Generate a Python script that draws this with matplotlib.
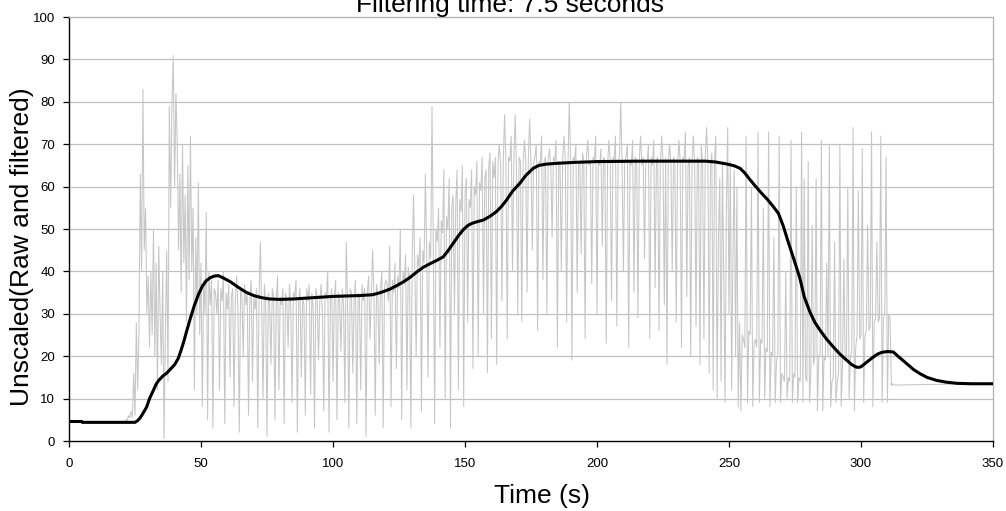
import numpy as np
import matplotlib
matplotlib.use("Agg")
import matplotlib.pyplot as plt

# ---------------- data ----------------
# raw signal (grey), quiet start
raw_quiet_t = [0.0, 4.8, 5.0, 21.0]
raw_quiet_v = [4.6, 4.6, 4.3, 4.3]

RAW_STEP = 0.5  # sampling of the raw segments (s)

raw_a_start = 21.5
raw_a = [5, 4.8, 6, 5.5, 7, 5.5, 16, 6, 28, 12,
         25, 63, 40, 83, 45, 55, 30, 39, 22, 40,
         25, 50, 20, 42, 12, 46, 30, 18, 40, 0.5,
         25, 45, 14, 79, 55, 80, 91, 60, 82, 70,
         45, 63, 35, 70, 42, 58, 28, 65, 38, 72,
         40, 55, 12, 48, 30, 61, 25, 42, 8, 38,
         30, 54, 5, 40, 32, 38, 3, 36]

raw_b_start = 55.5
raw_b = [35, 30, 38, 12, 36, 33, 40, 4, 35, 31,
         37, 15, 34, 36, 8, 33, 39, 31, 2, 36,
         34, 20, 37, 32, 35, 6, 33, 38, 14, 34,
         31, 36, 3, 35, 47, 30, 10, 37, 33, 1,
         35, 32, 18, 36, 34, 5, 33, 39, 12, 34,
         32, 36, 4, 35, 33, 22, 37, 31, 9, 35,
         34, 38, 2, 33, 36, 15, 34, 32, 6, 36,
         33, 37, 11, 35, 31, 3, 36, 34, 19, 33,
         37, 30, 7, 35, 34, 40, 2, 33, 36, 14,
         34, 38, 5, 35, 33, 21, 36, 32, 9, 47,
         34, 3, 36, 35, 16, 33, 38, 4, 35, 34,
         12, 37, 33, 36, 1, 35, 39, 24, 34, 45,
         35, 6, 37, 34, 18, 36, 40, 3, 36, 38]

raw_c_start = 120.5
raw_c = [37, 33, 46, 8, 38, 35, 42, 17, 39, 36,
         50, 5, 40, 37, 44, 12, 41, 38, 3, 43,
         58, 40, 20, 44, 41, 48, 7, 45, 42, 63,
         44, 15, 47, 43, 79, 46, 4, 50, 47, 55,
         22, 52, 49, 64, 10, 53, 50, 62, 3, 55,
         58, 30, 56, 64, 12, 57, 54, 65, 8, 58,
         62, 28, 57, 55, 64, 17, 60, 58, 66, 20,
         61, 59, 67, 30, 62, 64, 16, 65, 68, 24]

raw_d_start = 160.5
raw_d = [66, 62, 67, 18, 66, 70, 65, 33, 66, 77,
         65, 24, 67, 66, 72, 40, 66, 77, 64, 30,
         67, 66, 28, 65, 71, 66, 35, 67, 76, 65,
         45, 66, 67, 70, 26, 66, 65, 72, 38, 66,
         67, 30, 66, 69, 65, 48, 67, 66, 71, 22,
         66, 65, 40, 67, 72, 66, 28, 65, 80, 66,
         19, 67, 66, 70, 35, 65, 66, 44, 68, 66,
         24, 67, 71, 65, 66, 37, 67, 66, 72, 30,
         66, 65, 69, 46, 67, 66, 23, 65, 71, 66,
         33, 67, 66, 72, 27, 66, 67, 80, 65, 40,
         66, 67, 70, 22, 66, 65, 71, 35, 67, 66,
         29, 66, 72, 65, 67, 43, 66, 66, 70, 24,
         67, 65, 71, 36, 66, 67, 26, 65, 72, 66,
         32, 67, 18, 66, 70, 65, 40, 67, 66, 28,
         65, 71, 66, 22, 67, 66, 73, 34, 65, 67,
         20, 66, 72, 65, 27, 67, 66, 18, 70, 65,
         24, 67, 74, 66, 16, 65, 68, 12, 66, 72]

raw_e_start = 245.5
raw_e = [10, 48, 62, 14, 66, 40, 9, 55, 74, 30,
         66, 12, 45, 64, 20, 60, 8, 28, 7, 25,
         24, 22, 72, 9, 26, 25, 60, 8, 23, 24,
         22, 73, 9, 24, 23, 55, 10, 22, 21, 73,
         8, 21, 20, 48, 9, 19, 20, 72, 9, 16,
         15, 14, 40, 10, 15, 14, 71, 9, 16, 15,
         60, 9, 15, 14, 73, 9, 62, 15, 14, 66,
         9, 16, 51, 18, 20, 62, 7, 20, 20, 71,
         7, 20, 19, 42, 20, 70, 8, 14, 15, 47,
         9, 14, 16, 70, 8, 18, 43, 19, 20, 60,
         10, 20, 21, 74, 7, 22, 25, 59, 24, 25,
         69, 9, 25, 26, 51, 26, 27, 73, 8, 28,
         29, 47, 28, 29, 72, 9, 29, 30, 67, 9,
         30, 29, 13, 13.5, 13.3, 13.2]

raw_tail_t = [322.0, 334.0]
raw_tail_v = [13.3, 13.4]

# filtered signal (black)
filt_t = [0, 4.8, 5.0, 25, 26, 27, 28, 29.4, 30.5, 32,
          33, 34, 35.5, 37, 38.5, 40, 41.4, 42.5, 43.5, 44.6,
          46, 47.5, 49, 50.5, 52, 53.5, 55, 56.5, 58, 61,
          64, 67, 70, 73, 76, 80, 85, 90, 95, 100,
          105, 110, 115, 118, 121.5, 124, 126.6, 129, 131.6, 134,
          136.7, 139, 141.7, 143.5, 145.5, 147.5, 149.3, 151, 152.5, 154.5,
          156.9, 159.5, 161.9, 163.8, 165.7, 168, 170.8, 173, 175.8, 178,
          180.8, 185, 191, 200, 216, 241, 245, 249.4, 252, 254.2,
          256, 258, 260, 262.4, 264.5, 266.5, 268.7, 270.5, 272.5, 274.5,
          276.8, 278.5, 280.6, 282.5, 284.4, 287, 289.5, 292, 294.5, 296.5,
          298.3, 299.5, 300.2, 302, 304, 306, 307.8, 310, 312.2, 314,
          317.2, 320, 322.3, 325, 328.6, 332, 336.2, 342, 350]
filt_v = [4.6, 4.6, 4.4, 4.4, 4.8, 5.5, 6.5, 8, 10, 12,
          13.4, 14.3, 15.3, 16, 17, 18, 19.5, 21.5, 23.5, 26,
          29, 32, 34.5, 36.5, 37.8, 38.5, 38.9, 39, 38.6, 37.6,
          36.3, 35.1, 34.3, 33.8, 33.5, 33.4, 33.5, 33.7, 33.9, 34.1,
          34.2, 34.3, 34.5, 35, 35.8, 36.6, 37.5, 38.5, 39.8, 40.9,
          41.8, 42.5, 43.4, 44.8, 46.6, 48.4, 49.8, 50.8, 51.3, 51.7,
          52.1, 53, 54.1, 55.3, 56.8, 58.9, 60.8, 62.6, 64.3, 65,
          65.3, 65.5, 65.7, 65.9, 66.0, 66.0, 65.8, 65.3, 64.9, 64.3,
          63.2, 61.6, 60.1, 58.4, 57, 55.5, 53.7, 50.8, 46.8, 43,
          38.5, 34, 30.5, 28, 26.2, 24, 22.2, 20.5, 19.1, 18,
          17.4, 17.4, 17.6, 18.5, 19.5, 20.4, 20.9, 21.1, 21, 20,
          18.3, 16.8, 15.9, 15, 14.3, 13.9, 13.6, 13.5, 13.5]

x_ticks = [0, 50, 100, 150, 200, 250, 300, 350]
y_ticks = [0, 10, 20, 30, 40, 50, 60, 70, 80, 90, 100]

title_text = "Filtering time: 7.5 seconds"
x_label = "Time (s)"
y_label = "Unscaled(Raw and filtered)"

# ---------------- assemble raw series ----------------
def seg_times(start, vals):
    return start + np.arange(len(vals)) * RAW_STEP

raw_t = np.concatenate([
    raw_quiet_t,
    seg_times(raw_a_start, raw_a),
    seg_times(raw_b_start, raw_b),
    seg_times(raw_c_start, raw_c),
    seg_times(raw_d_start, raw_d),
    seg_times(raw_e_start, raw_e),
    raw_tail_t,
])
raw_v = np.concatenate([raw_quiet_v, raw_a, raw_b, raw_c, raw_d, raw_e, raw_tail_v])

# ---------------- plot ----------------
plt.rcParams["font.family"] = ["Liberation Sans", "DejaVu Sans"]

W, H = 1006, 511
fig = plt.figure(figsize=(W / 100, H / 100), dpi=100)
ax = fig.add_axes([69 / W, 1 - 441 / H, (993 - 69) / W, (441 - 17) / H])

GRID = "#c0c0c0"
for y in y_ticks[1:]:
    ax.axhline(y, color=GRID, lw=0.9, zorder=1)

ax.plot(raw_t, raw_v, color="#c6c6c6", lw=0.75, zorder=2, solid_joinstyle="miter")
ax.plot(filt_t, filt_v, color="black", lw=2.2, zorder=3,
        solid_joinstyle="round", solid_capstyle="round")

ax.set_xlim(0, 350)
ax.set_ylim(0, 100)
ax.set_xticks(x_ticks)
ax.set_yticks(y_ticks)
ax.set_xticklabels([str(v) for v in x_ticks])
ax.set_yticklabels([str(v) for v in y_ticks])

ax.tick_params(axis="both", direction="out", length=4, width=0.9,
               labelsize=9.5, colors="black")
ax.tick_params(axis="y", pad=6)
ax.tick_params(axis="x", pad=8)

for side in ("left", "bottom"):
    ax.spines[side].set_color("black")
    ax.spines[side].set_linewidth(1.0)
for side in ("right", "top"):
    ax.spines[side].set_color("#b0b0b0")
    ax.spines[side].set_linewidth(0.9)

fig.text(0.507, 1 - 12 / H, title_text, ha="center", va="baseline", fontsize=19)
fig.text(541.5 / W, 1 - 503 / H, x_label, ha="center", va="baseline", fontsize=19)
fig.text(22 / W, 1 - 247 / H, y_label, ha="center", va="center",
         rotation=90, fontsize=19)

fig.savefig("out.png", dpi=100)
